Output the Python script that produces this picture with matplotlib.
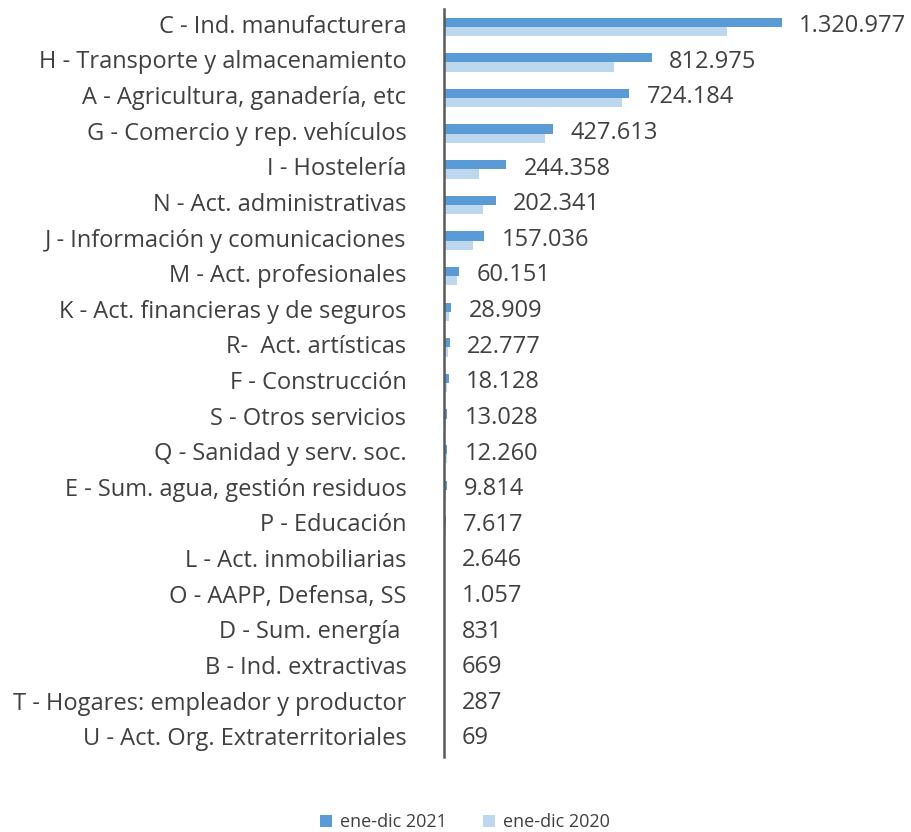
import numpy as np
import matplotlib.pyplot as plt
from matplotlib.transforms import ScaledTranslation

# categorias (de arriba a abajo)
sectores = [
    'C - Ind. manufacturera',
    'H - Transporte y almacenamiento',
    'A - Agricultura, ganadería, etc',
    'G - Comercio y rep. vehículos',
    'I - Hostelería',
    'N - Act. administrativas',
    'J - Información y comunicaciones',
    'M - Act. profesionales',
    'K - Act. financieras y de seguros',
    'R-  Act. artísticas',
    'F - Construcción',
    'S - Otros servicios',
    'Q - Sanidad y serv. soc.',
    'E - Sum. agua, gestión residuos',
    'P - Educación',
    'L - Act. inmobiliarias',
    'O - AAPP, Defensa, SS',
    'D - Sum. energía ',
    'B - Ind. extractivas',
    'T - Hogares: empleador y productor',
    'U - Act. Org. Extraterritoriales',
]
v2021 = [1320977, 812975, 724184, 427613, 244358, 202341, 157036, 60151,
         28909, 22777, 18128, 13028, 12260, 9814, 7617, 2646, 1057, 831,
         669, 287, 69]
# valores 2020 estimados a ojo desde la imagen
v2020 = [1106000, 664000, 696000, 395000, 137000, 153000, 115000, 50000,
         20000, 17000, 11000, 9000, 10000, 8000, 6000, 2000, 900, 700,
         600, 250, 60]

def fmt(v):
    return f'{v:,}'.replace(',', '.')

W, H = 912, 832
fig = plt.figure(figsize=(W / 100, H / 100), dpi=100)
ax = fig.add_axes([444 / W, 75 / H, (900 - 444) / W, 748 / H])

y = np.arange(len(sectores))
h = 0.26
b1 = ax.barh(y - h / 2, v2021, height=h, color='#5B9BD5', label='ene-dic 2021')
b2 = ax.barh(y + h / 2, v2020, height=h, color='#BDD7EE', label='ene-dic 2020')

for yi, v in zip(y, v2021):
    ax.annotate(fmt(v), (v, yi - 0.02), xytext=(12.5, 0), textcoords='offset points',
                va='center', ha='left', fontsize=17, color='#404040', family='Open Sans')

ax.set_xlim(0, 1784000)
ax.set_ylim(len(sectores) - 0.5, -0.5)
ax.set_yticks(y)
ax.set_yticklabels(sectores, fontsize=17, color='#404040', family='Open Sans',
                   va='center')
# bajar un poco las etiquetas
for lab in ax.get_yticklabels():
    lab.set_transform(lab.get_transform() + ScaledTranslation(0, -2 / 100, fig.dpi_scale_trans))
ax.tick_params(axis='y', length=0, pad=27)
ax.set_xticks([])
for s in ['top', 'right', 'bottom']:
    ax.spines[s].set_visible(False)
ax.spines['left'].set_color('#595959')
ax.spines['left'].set_linewidth(1.8)

fig.legend(handles=[b1, b2], loc='center', bbox_to_anchor=(465 / W, 1 - 822 / H),
           ncol=2, frameon=False, prop={'family': 'Open Sans', 'size': 13},
           handlelength=0.65, handleheight=0.65, handletextpad=0.45, columnspacing=2.0,
           labelcolor='#404040', borderpad=0.2)

fig.savefig('out.png', dpi=100)
